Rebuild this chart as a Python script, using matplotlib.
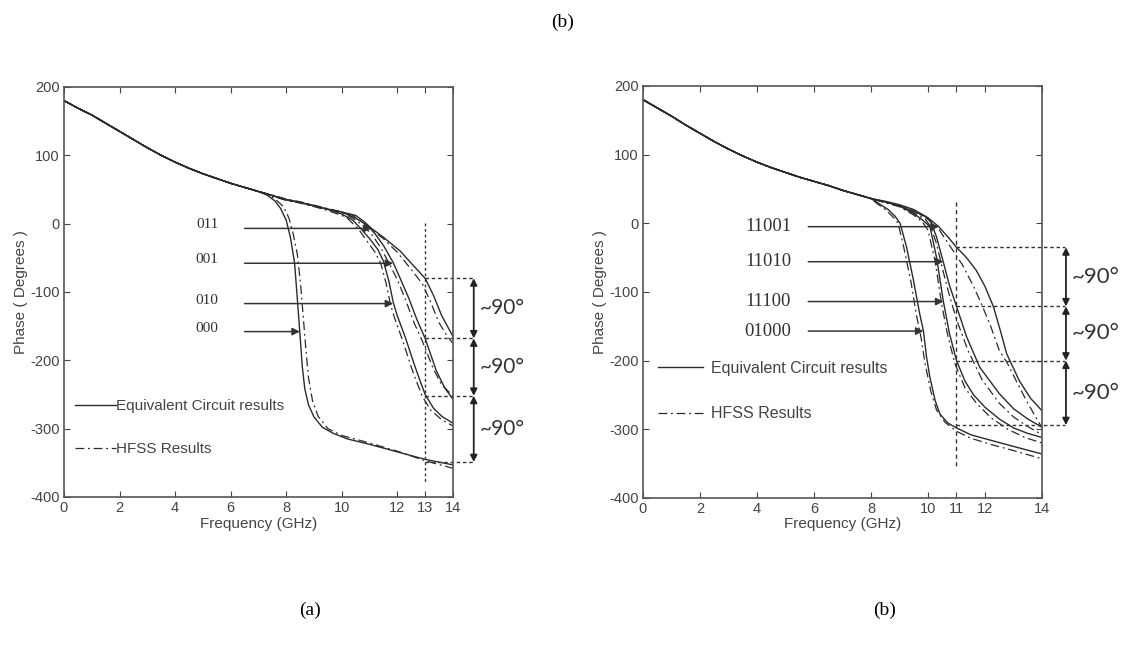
import matplotlib
matplotlib.use("Agg")
import matplotlib.pyplot as plt

plt.rcParams['font.family'] = ['Liberation Sans', 'DejaVu Sans']
plt.rcParams['axes.unicode_minus'] = False

# ---------------- panel (a) data: phase (deg) vs frequency (GHz) ----------------
common_f_a = [0, 0.5, 1, 1.5, 2, 2.5, 3, 3.5, 4, 4.5, 5, 5.5, 6, 6.5, 7]
common_p_a = [180, 169, 159, 147, 135, 123, 111, 100, 90, 81, 73, 66, 59, 53, 47]

a000_f = [7.3, 7.6, 7.8, 8.0, 8.15, 8.3, 8.4, 8.5, 8.58, 8.67, 8.8, 9.0, 9.3, 9.7, 10.2, 11, 12, 13, 14]
a000_p = [42, 33, 22, 5, -20, -57, -110, -165, -210, -242, -265, -283, -298, -307, -315, -323, -334, -345, -353]
a000h_f = [7.3, 7.6, 7.9, 8.1, 8.25, 8.4, 8.52, 8.62, 8.7, 8.8, 8.95, 9.15, 9.5, 10, 11, 12, 13, 14]
a000h_p = [43, 36, 25, 8, -15, -45, -90, -140, -180, -225, -260, -282, -300, -310, -321, -333, -347, -358]

a010_f = [7.5, 8, 8.5, 9, 9.5, 10, 10.4, 10.7, 11.0, 11.3, 11.5, 11.7, 11.85, 12.0, 12.3, 12.6, 12.8, 13.0, 13.3, 13.6, 14]
a010_p = [41, 35, 31, 26, 21, 14, 5, -8, -22, -38, -55, -85, -115, -135, -168, -205, -228, -250, -270, -282, -292]
a010h_f = [7.5, 8, 8.5, 9, 9.5, 10, 10.2, 10.6, 10.9, 11.2, 11.4, 11.6, 11.75, 11.9, 12.2, 12.5, 12.7, 12.9, 13.2, 13.6, 14]
a010h_p = [40, 34, 30, 25, 19, 12, 8, -8, -25, -42, -58, -88, -118, -138, -172, -210, -232, -253, -273, -287, -296]

a001_f = [7.5, 8, 8.5, 9, 9.5, 10, 10.5, 10.9, 11.2, 11.5, 11.85, 12.1, 12.4, 12.7, 13.0, 13.4, 13.7, 14]
a001_p = [41, 35, 31, 26, 21, 17, 8, -2, -15, -32, -57, -80, -108, -140, -168, -215, -240, -257]
a001h_f = [7.5, 8, 8.5, 9, 9.5, 10, 10.4, 10.8, 11.1, 11.4, 11.7, 12.0, 12.3, 12.6, 12.9, 13.3, 13.6, 14]
a001h_p = [41, 35, 31, 26, 21, 16, 8, -4, -17, -35, -58, -82, -112, -145, -172, -213, -236, -252]

a011_f = [7.5, 8, 8.5, 9, 9.5, 10, 10.5, 10.8, 11.07, 11.5, 12.1, 12.5, 13.0, 13.3, 13.6, 14]
a011_p = [41, 35, 31, 26, 21, 17, 12, 3, -7, -20, -40, -58, -80, -105, -135, -165]
a011h_f = [7.5, 8, 8.5, 9, 9.5, 10, 10.4, 10.8, 11.1, 11.5, 12.0, 12.4, 12.9, 13.2, 13.5, 13.8, 14]
a011h_p = [42, 36, 32, 27, 22, 17, 12, 0, -10, -22, -42, -62, -88, -115, -145, -165, -175]

states_a = ['011', '001', '010', '000']
arrow_p_a = [-7, -58, -117, -158]
arrow_f_a = [11.07, 11.85, 11.85, 8.49]
levels_a = [-80, -168, -252, -349]

# ---------------- panel (b) data ----------------
common_f_b = [0, 0.5, 1, 1.5, 2, 2.5, 3, 3.5, 4, 4.5, 5, 5.5, 6, 6.5, 7, 7.5, 8]
common_p_b = [180, 168, 156, 143, 131, 119, 108, 98, 89, 81, 74, 67, 61, 55, 48, 42, 36]

b01000_f = [8.3, 8.6, 8.85, 9.02, 9.25, 9.49, 9.7, 9.84, 9.95, 10.07, 10.25, 10.42, 10.7, 11.0, 11.5, 12.2, 13, 14]
b01000_p = [28, 20, 10, 0, -35, -83, -130, -157, -195, -225, -258, -278, -291, -298, -308, -316, -325, -336]
b01000h_f = [8.2, 8.5, 8.8, 8.95, 9.15, 9.4, 9.6, 9.75, 9.9, 10.1, 10.3, 10.6, 11, 11.5, 12.2, 13, 14]
b01000h_p = [29, 20, 8, 0, -35, -85, -135, -165, -205, -245, -272, -290, -303, -313, -322, -331, -343]

b11100_f = [8.5, 9.0, 9.5, 9.8, 10.07, 10.3, 10.54, 10.75, 11.0, 11.3, 11.6, 12.0, 12.5, 13, 13.5, 14]
b11100_p = [31, 25, 14, 5, -5, -50, -114, -160, -200, -230, -250, -268, -285, -298, -306, -312]
b11100h_f = [8.5, 9.0, 9.5, 9.8, 10.0, 10.25, 10.48, 10.7, 10.95, 11.3, 11.7, 12.2, 12.8, 13.4, 14]
b11100h_p = [30, 24, 12, 2, -10, -55, -118, -165, -205, -240, -262, -283, -300, -312, -320]

b11010_f = [8.5, 9.0, 9.5, 9.9, 10.1, 10.3, 10.54, 10.75, 11.0, 11.36, 11.82, 12.5, 13, 13.5, 14]
b11010_p = [31, 26, 17, 10, 2, -20, -57, -90, -121, -166, -210, -248, -270, -285, -297]
b11010h_f = [8.5, 9.0, 9.5, 9.9, 10.1, 10.3, 10.5, 10.75, 11.0, 11.4, 11.9, 12.5, 13.0, 13.5, 14]
b11010h_p = [30, 25, 15, 6, -5, -30, -65, -105, -140, -185, -228, -262, -282, -296, -308]

b11001_f = [8.5, 9.0, 9.5, 10.0, 10.38, 10.7, 11.0, 11.35, 11.7, 12.0, 12.3, 12.55, 12.76, 13.2, 13.6, 14]
b11001_p = [32, 27, 20, 8, -5, -20, -35, -50, -69, -92, -122, -158, -190, -229, -255, -273]
b11001h_f = [8.5, 9.0, 9.5, 10.0, 10.4, 10.8, 11.2, 11.6, 11.9, 12.2, 12.5, 12.8, 13.1, 13.5, 14]
b11001h_p = [31, 25, 18, 6, -10, -35, -60, -92, -120, -150, -185, -205, -230, -262, -298]

states_b = ['11001', '11010', '11100', '01000']
arrow_p_b = [-5, -56, -114, -157]
arrow_f_b = [10.38, 10.54, 10.54, 9.84]
levels_b = [-35, -121, -200, -294]

line_col = '#2b2b2b'
tick_col = '#444444'

fig = plt.figure(figsize=(11.32, 6.45), dpi=100)
ax1 = fig.add_axes([0.0565, 0.2295, 0.3436, 0.6357])
ax2 = fig.add_axes([0.568, 0.228, 0.3525, 0.6388])


def style_axes(ax, xticks):
    ax.set_xlim(0, 14)
    ax.set_ylim(-400, 200)
    ax.set_xticks(xticks)
    ax.set_yticks([-400, -300, -200, -100, 0, 100, 200])
    ax.tick_params(direction='in', top=True, right=True, length=4, width=0.8,
                   colors=tick_col, labelsize=10.5, pad=3)
    for s in ax.spines.values():
        s.set_color('#555555')
        s.set_linewidth(1.2)
    ax.set_xlabel('Frequency (GHz)', fontsize=11, color=tick_col, labelpad=1)
    ax.set_ylabel('Phase ( Degrees )', fontsize=11, color=tick_col, labelpad=2)


def draw_pair(ax, cf, cp, f, p, fh, ph):
    ax.plot(cf + f, cp + p, color=line_col, lw=1.0)
    ax.plot(cf + fh, cp + ph, color=line_col, lw=0.9, linestyle=(0, (7, 3, 1.5, 3)))


# ---------------- panel (a) ----------------
style_axes(ax1, [0, 2, 4, 6, 8, 10, 12, 13, 14])
draw_pair(ax1, common_f_a, common_p_a, a000_f, a000_p, a000h_f, a000h_p)
draw_pair(ax1, common_f_a, common_p_a, a010_f, a010_p, a010h_f, a010h_p)
draw_pair(ax1, common_f_a, common_p_a, a001_f, a001_p, a001h_f, a001h_p)
draw_pair(ax1, common_f_a, common_p_a, a011_f, a011_p, a011h_f, a011h_p)

for name, yp, fp in zip(states_a, arrow_p_a, arrow_f_a):
    ax1.annotate('', xy=(fp, yp), xytext=(6.5, yp),
                 arrowprops=dict(arrowstyle='-|>', color='#333333', lw=1.1,
                                 mutation_scale=11, shrinkA=0, shrinkB=0))
    ax1.text(5.55, yp + 5, name, ha='right', va='center', fontsize=11,
             family=['Liberation Serif', 'DejaVu Serif'], color='#333333')

ax1.plot([13, 13], [1, -378], color='#333333', lw=1.0, linestyle=(0, (2, 2)), clip_on=False)
for lv in levels_a:
    ax1.plot([13, 14.78], [lv, lv], color='#333333', lw=1.0, linestyle=(0, (2.5, 2)), clip_on=False)
for lo, hi in zip(levels_a[:-1], levels_a[1:]):
    ax1.annotate('', xy=(14.75, hi), xytext=(14.75, lo), annotation_clip=False,
                 arrowprops=dict(arrowstyle='<|-|>', color='#222222', lw=1.3,
                                 mutation_scale=10, shrinkA=0, shrinkB=0))
    ax1.text(14.95, (lo + hi) / 2, '~90°', ha='left', va='center', fontsize=15,
             family=['Lato', 'DejaVu Sans'], color='#333333', clip_on=False)

ax1.plot([], [], color=line_col, lw=1.0, label='Equivalent Circuit results')
ax1.plot([], [], color=line_col, lw=0.9, linestyle=(0, (7, 3, 1.5, 3)), label='HFSS Results')
ax1.legend(loc='upper left', bbox_to_anchor=(0.0, 0.265), frameon=False, fontsize=11,
           handlelength=2.7, handletextpad=0.0, labelspacing=1.9, borderaxespad=0.3,
           labelcolor=tick_col)

# ---------------- panel (b) ----------------
style_axes(ax2, [0, 2, 4, 6, 8, 10, 11, 12, 14])
draw_pair(ax2, common_f_b, common_p_b, b01000_f, b01000_p, b01000h_f, b01000h_p)
draw_pair(ax2, common_f_b, common_p_b, b11100_f, b11100_p, b11100h_f, b11100h_p)
draw_pair(ax2, common_f_b, common_p_b, b11010_f, b11010_p, b11010h_f, b11010h_p)
draw_pair(ax2, common_f_b, common_p_b, b11001_f, b11001_p, b11001h_f, b11001h_p)

for name, yp, fp in zip(states_b, arrow_p_b, arrow_f_b):
    ax2.annotate('', xy=(fp, yp), xytext=(5.8, yp),
                 arrowprops=dict(arrowstyle='-|>', color='#333333', lw=1.1,
                                 mutation_scale=11, shrinkA=0, shrinkB=0))
    ax2.text(5.2, yp, name, ha='right', va='center', fontsize=13.5,
             family=['Liberation Serif', 'DejaVu Serif'], color='#333333')

ax2.plot([11, 11], [31, -357], color='#333333', lw=1.0, linestyle=(0, (3, 2.5)), clip_on=False)
for lv in levels_b:
    ax2.plot([11, 14.81], [lv, lv], color='#333333', lw=1.0, linestyle=(0, (2.5, 2)), clip_on=False)
for lo, hi in zip(levels_b[:-1], levels_b[1:]):
    ax2.annotate('', xy=(14.84, hi), xytext=(14.84, lo), annotation_clip=False,
                 arrowprops=dict(arrowstyle='<|-|>', color='#222222', lw=1.3,
                                 mutation_scale=10, shrinkA=0, shrinkB=0))
    ax2.text(15.05, (lo + hi) / 2, '~90°', ha='left', va='center', fontsize=16,
             family=['Lato', 'DejaVu Sans'], color='#333333', clip_on=False)

ax2.plot([], [], color=line_col, lw=1.0, label='Equivalent Circuit results')
ax2.plot([], [], color=line_col, lw=0.9, linestyle=(0, (7, 3, 1.5, 3)), label='HFSS Results')
ax2.legend(loc='upper left', bbox_to_anchor=(0.01, 0.36), frameon=False, fontsize=11.5,
           handlelength=2.8, handletextpad=0.5, labelspacing=1.9, borderaxespad=0.3,
           labelcolor=tick_col)

# captions
serif = ['Liberation Serif', 'DejaVu Serif']
fig.text(563 / 1132, 1 - 22 / 645, '(b)', ha='center', va='center', fontsize=14, family=serif)
fig.text(310 / 1132, 1 - 610 / 645, '(a)', ha='center', va='center', fontsize=14, family=serif)
fig.text(885 / 1132, 1 - 610 / 645, '(b)', ha='center', va='center', fontsize=14, family=serif)

fig.savefig('out.png', dpi=100)
